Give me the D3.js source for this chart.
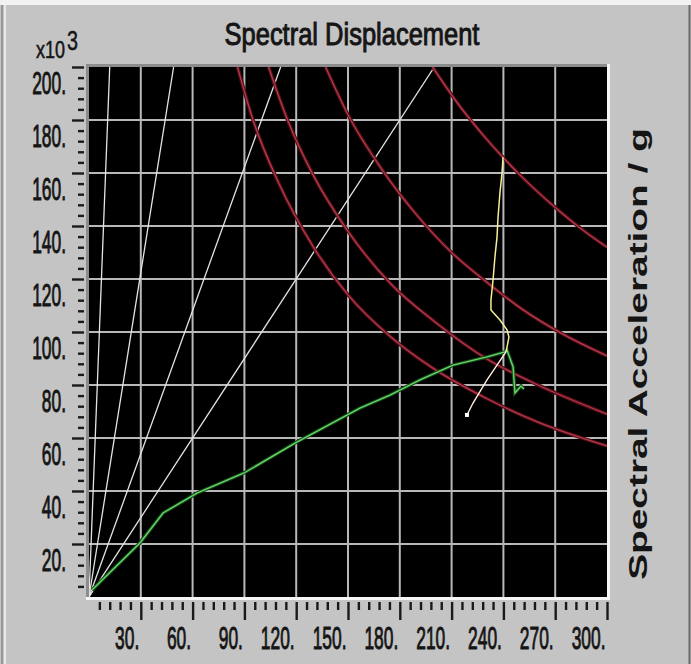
<!doctype html>
<html>
  <head>
    <script src="https://cdn.jsdelivr.net/npm/d3@7/dist/d3.min.js"></script>
    <style>
      body, html {
        margin: 0;
        background: #c4c4c4;
      }
      svg {
        display: block;
      }
      text {
        font-family: "Liberation Sans", Arial, sans-serif;
        fill: #151515;
      }
    </style>
  </head>
  <body>
    <svg width="691" height="664"></svg>
    <script>

      // tick labels
      var xTicks = [30, 60, 90, 120, 150, 180, 210, 240, 270, 300];
      var yTicks = [20, 40, 60, 80, 100, 120, 140, 160, 180, 200];

      // constant period lines: Sd where each reaches Sa = 200
      var periodSd = [12, 49, 111, 200];

      // demand spectra (red)
      var demandSd = [
        [86, 95, 110, 130, 150, 175, 200, 230, 260, 300],
        [104, 115, 130, 150, 175, 200, 230, 260, 300],
        [137, 150, 170, 190, 210, 230, 250, 275, 300],
        [199, 215, 230, 250, 270, 285, 300]
      ];
      var demandSa = [
        [200, 180, 156, 132, 114, 98, 86, 75, 66, 57],
        [200, 180, 159, 138, 118, 104, 90, 80, 69],
        [200, 182, 161, 144, 130, 119, 109, 99, 91],
        [200, 185, 173, 159, 147, 139, 132]
      ];

      // capacity curve (green)
      var capacitySd = [1.7, 29.5, 42.9, 62.5, 89.8, 119.3, 156.9, 174.3, 191.7, 210.8, 230.5, 240.9, 242.1, 245.6, 246.7, 250.2, 251.9];
      var capacitySa = [2.6, 20.4, 31.7, 39.2, 46.8, 58.1, 71.3, 76.2, 81.9, 87.5, 90.6, 92.5, 93.2, 86.8, 77.0, 79.6, 78.5];

      // iteration trace (yellow) and last step (white)
      var traceSd = [239.8, 239.2, 238.0, 236.9, 236.3, 235.1, 234.0, 232.8, 232.8, 238.0, 242.1, 243.2, 242.1, 241.5];
      var traceSa = [166.0, 160.0, 152.5, 143.4, 135.8, 128.3, 119.6, 112.1, 108.3, 104.5, 100.8, 98.1, 94.3, 92.5];
      var stepSd = [241.5, 230.5, 222.4, 218.9];
      var stepSa = [92.5, 81.9, 73.2, 68.7];

      var svg = d3.select("svg");

      var x = d3.scaleLinear().domain([0, 300]).range([89, 607]);
      var y = d3.scaleLinear().domain([0, 200]).range([597, 67]);

      var zip = (a, b) => a.map((d, i) => [d, b[i]]);
      var line = d3.line().x(d => x(d[0])).y(d => y(d[1]));

      // window edges
      svg.append("rect").attr("x", 0).attr("y", 0).attr("width", 691).attr("height", 5).attr("fill", "#f2f2f2");
      svg.append("line").attr("x1", 2).attr("x2", 2).attr("y1", 5).attr("y2", 664).attr("stroke", "#8a8a8a").attr("stroke-width", 1.5);
      svg.append("line").attr("x1", 5).attr("x2", 5).attr("y1", 5).attr("y2", 664).attr("stroke", "#f4f4f4").attr("stroke-width", 1.5);
      svg.append("line").attr("x1", 689.5).attr("x2", 689.5).attr("y1", 5).attr("y2", 664).attr("stroke", "#6a6a6a").attr("stroke-width", 2);

      // plot background
      svg.append("clipPath").attr("id", "clip")
        .append("rect")
        .attr("x", x(0)).attr("y", y(200))
        .attr("width", x(300) - x(0)).attr("height", y(0) - y(200));

      svg.append("rect")
        .attr("x", x(0)).attr("y", y(200))
        .attr("width", x(300) - x(0)).attr("height", y(0) - y(200))
        .attr("fill", "#000");

      var plot = svg.append("g").attr("clip-path", "url(#clip)");

      // grid
      plot.selectAll("line.vgrid")
        .data(xTicks.filter(d => d < 300))
        .enter().append("line")
        .attr("class", "vgrid")
        .attr("x1", d => x(d)).attr("x2", d => x(d))
        .attr("y1", y(0)).attr("y2", y(200))
        .attr("stroke", "#b8b8b8").attr("stroke-width", 2);

      plot.selectAll("line.hgrid")
        .data(yTicks.filter(d => d < 200))
        .enter().append("line")
        .attr("class", "hgrid")
        .attr("x1", x(0)).attr("x2", x(300))
        .attr("y1", d => y(d)).attr("y2", d => y(d))
        .attr("stroke", "#b8b8b8").attr("stroke-width", 2);

      // constant period lines
      plot.selectAll("path.period")
        .data(periodSd)
        .enter().append("path")
        .attr("class", "period")
        .attr("d", d => line([[0, 0], [d, 200]]))
        .attr("fill", "none")
        .attr("stroke", "#e4e4e4")
        .attr("stroke-width", 1.3);

      // demand spectra
      var demand = demandSd.map((sd, i) => zip(sd, demandSa[i]));
      var curve = d3.line().x(d => x(d[0])).y(d => y(d[1])).curve(d3.curveMonotoneX);

      plot.selectAll("path.demandGlow")
        .data(demand)
        .enter().append("path")
        .attr("d", curve)
        .attr("fill", "none")
        .attr("stroke", "#520d16")
        .attr("stroke-width", 3.6);

      plot.selectAll("path.demand")
        .data(demand)
        .enter().append("path")
        .attr("d", curve)
        .attr("fill", "none")
        .attr("stroke", "#b23a4b")
        .attr("stroke-width", 1.3);

      // capacity curve
      var capacity = zip(capacitySd, capacitySa);
      plot.append("path")
        .attr("d", line(capacity))
        .attr("fill", "none")
        .attr("stroke", "#16461a")
        .attr("stroke-width", 3.6);
      plot.append("path")
        .attr("d", line(capacity))
        .attr("fill", "none")
        .attr("stroke", "#66d866")
        .attr("stroke-width", 1.4);

      // trace
      plot.append("path")
        .attr("d", line(zip(traceSd, traceSa)))
        .attr("fill", "none")
        .attr("stroke", "#f4f096")
        .attr("stroke-width", 1.5);

      plot.append("path")
        .attr("d", line(zip(stepSd, stepSa)))
        .attr("fill", "none")
        .attr("stroke", "#fff0dc")
        .attr("stroke-width", 1.4);

      plot.append("rect")
        .attr("x", x(stepSd[stepSd.length - 1]) - 2)
        .attr("y", y(stepSa[stepSa.length - 1]) - 2)
        .attr("width", 4).attr("height", 4)
        .attr("fill", "#fff");

      // sunken frame
      svg.append("line").attr("x1", 86).attr("x2", 609).attr("y1", 65.5).attr("y2", 65.5).attr("stroke", "#8c8c8c").attr("stroke-width", 3);
      svg.append("line").attr("x1", 87.5).attr("x2", 87.5).attr("y1", 64).attr("y2", 598).attr("stroke", "#8c8c8c").attr("stroke-width", 3);
      svg.append("line").attr("x1", 86).attr("x2", 610).attr("y1", 598.5).attr("y2", 598.5).attr("stroke", "#f6f6f6").attr("stroke-width", 3);
      svg.append("line").attr("x1", 608.5).attr("x2", 608.5).attr("y1", 64).attr("y2", 600).attr("stroke", "#f6f6f6").attr("stroke-width", 3);

      // axes
      var xMinor = d3.range(6, 300, 6).filter(d => d % 30 != 0);
      var yMinor = d3.range(4, 200, 4).filter(d => d % 20 != 0);

      function styleAxis(g) {
        g.select(".domain").remove();
        g.selectAll(".tick line").attr("stroke", "#1a1a1a").attr("stroke-width", 2.4);
      }

      function styleLabels(sel, tf) {
        sel.attr("x", null).attr("y", null).attr("dy", null)
          .attr("text-anchor", "end")
          .style("font-size", "29px")
          .style("font-family", "'Liberation Sans', Arial, sans-serif")
          .attr("fill", "#151515")
          .attr("stroke", "#151515")
          .attr("stroke-width", 0.9)
          .attr("transform", tf);
      }

      svg.append("g")
        .attr("transform", "translate(84,0)")
        .call(d3.axisLeft(y).tickValues(yMinor).tickSize(6).tickFormat(""))
        .call(styleAxis);

      var yAxis = svg.append("g")
        .attr("transform", "translate(84,0)")
        .call(d3.axisLeft(y).tickValues(yTicks).tickSize(12).tickFormat(d => d + "."))
        .call(styleAxis);

      yAxis.selectAll("text").call(styleLabels, "translate(-18,26) scale(0.6,1.1)");

      svg.append("g")
        .attr("transform", "translate(0,602)")
        .call(d3.axisBottom(x).tickValues(xMinor).tickSize(8).tickFormat(""))
        .call(styleAxis);

      var xAxis = svg.append("g")
        .attr("transform", "translate(0,602)")
        .call(d3.axisBottom(x).tickValues(xTicks).tickSize(18).tickFormat(d => d + "."))
        .call(styleAxis);

      xAxis.selectAll("text").call(styleLabels, "translate(-2,47) scale(0.6,1.1)");

      // text fitted to the boxes seen in the picture
      function fit(t, width, capHeight) {
        var fs = parseFloat(t.style("font-size"));
        var len = t.node().getComputedTextLength();
        return " scale(" + (width / len) + "," + (capHeight / (0.716 * fs)) + ")";
      }

      var title = svg.append("text")
        .attr("text-anchor", "middle")
        .style("font-size", "22px")
        .attr("stroke", "#151515")
        .attr("stroke-width", 0.7)
        .text("Spectral Displacement");
      title.attr("transform", "translate(352,45)" + fit(title, 255, 22));

      var exp1 = svg.append("text")
        .style("font-size", "22px")
        .attr("stroke", "#151515")
        .attr("stroke-width", 0.5)
        .text("x10");
      exp1.attr("transform", "translate(36,58)" + fit(exp1, 29, 17));

      var exp2 = svg.append("text")
        .style("font-size", "28px")
        .attr("stroke", "#151515")
        .attr("stroke-width", 0.5)
        .text("3");
      exp2.attr("transform", "translate(67,50)" + fit(exp2, 11, 20));

      var yTitle = svg.append("text")
        .attr("text-anchor", "middle")
        .style("font-size", "25px")
        .style("font-weight", "bold")
        .text("Spectral Acceleration / g");
      yTitle.attr("transform", "translate(647,354) rotate(-90)" + fit(yTitle, 452, 19));

    </script>
  </body>
</html>
